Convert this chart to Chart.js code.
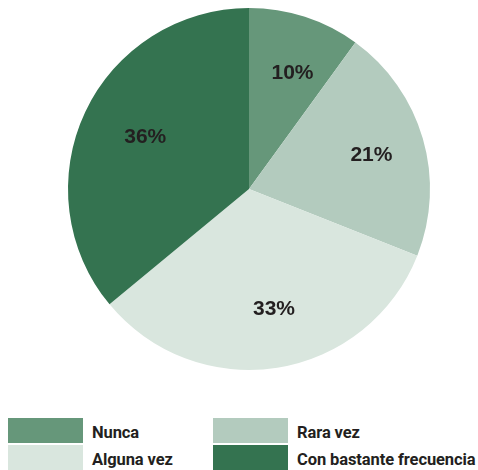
<!DOCTYPE html>
<html>
<head>
<meta charset="utf-8">
<script src="https://cdn.jsdelivr.net/npm/chart.js@4/dist/chart.umd.min.js"></script>
<style>
  html, body { margin: 0; padding: 0; background: #fff; }
  #wrap { position: relative; width: 478px; height: 470px; }
  #box { position: absolute; left: 0; top: 0; width: 478px; height: 378px; }
  #leyenda { position: absolute; left: 8px; top: 418px; width: 470px; }
  .item { position: absolute; height: 25px; }
  .item span.c { position: absolute; left: 0; top: 0; width: 75px; height: 25px; }
  .item span.t { position: absolute; left: 84px; top: 5px; font: bold 16.5px Roboto, sans-serif; color: #231f20; white-space: nowrap; letter-spacing: -0.1px; }
</style>
</head>
<body>
<div id="wrap">
  <div id="box"><canvas id="graficoTorta"></canvas></div>
  <div id="leyenda"></div>
</div>
<script>
const categorias = ['Nunca', 'Rara vez', 'Alguna vez', 'Con bastante frecuencia'];
const valores = [10, 21, 33, 36];
const colores = ['#66977a', '#b3cbbe', '#d9e6de', '#347350'];

// leyenda en dos columnas
const leyenda = document.getElementById('leyenda');
categorias.forEach((cat, i) => {
  const div = document.createElement('div');
  div.className = 'item';
  div.style.left = (i % 2 === 0 ? 0 : 205) + 'px';
  div.style.top = (Math.floor(i / 2) * 27) + 'px';
  div.innerHTML = '<span class="c" style="background:' + colores[i] + '"></span><span class="t">' + cat + '</span>';
  leyenda.appendChild(div);
});

const etiquetas = {
  id: 'etiquetas',
  afterDatasetsDraw(chart) {
    const ctx = chart.ctx;
    const meta = chart.getDatasetMeta(0);
    ctx.save();
    ctx.font = 'bold 21px "Liberation Sans", Arial, sans-serif';
    ctx.fillStyle = '#231f20';
    ctx.textAlign = 'center';
    ctx.textBaseline = 'middle';
    meta.data.forEach((arc, i) => {
      const mid = (arc.startAngle + arc.endAngle) / 2;
      const r = arc.outerRadius * 0.67;
      ctx.fillText(valores[i] + '%', arc.x + Math.cos(mid) * r + 6, arc.y + Math.sin(mid) * r);
    });
    ctx.restore();
  }
};

const ctx = document.getElementById('graficoTorta').getContext('2d');
new Chart(ctx, {
  type: 'pie',
  data: {
    labels: categorias,
    datasets: [{
      data: valores,
      backgroundColor: colores,
      borderWidth: 0
    }]
  },
  options: {
    responsive: true,
    maintainAspectRatio: false,
    animation: false,
    layout: { padding: { top: 8, bottom: 8, left: 20, right: 0 } },
    plugins: {
      legend: { display: false },
      tooltip: { enabled: false }
    }
  },
  plugins: [etiquetas]
});
</script>
</body>
</html>
